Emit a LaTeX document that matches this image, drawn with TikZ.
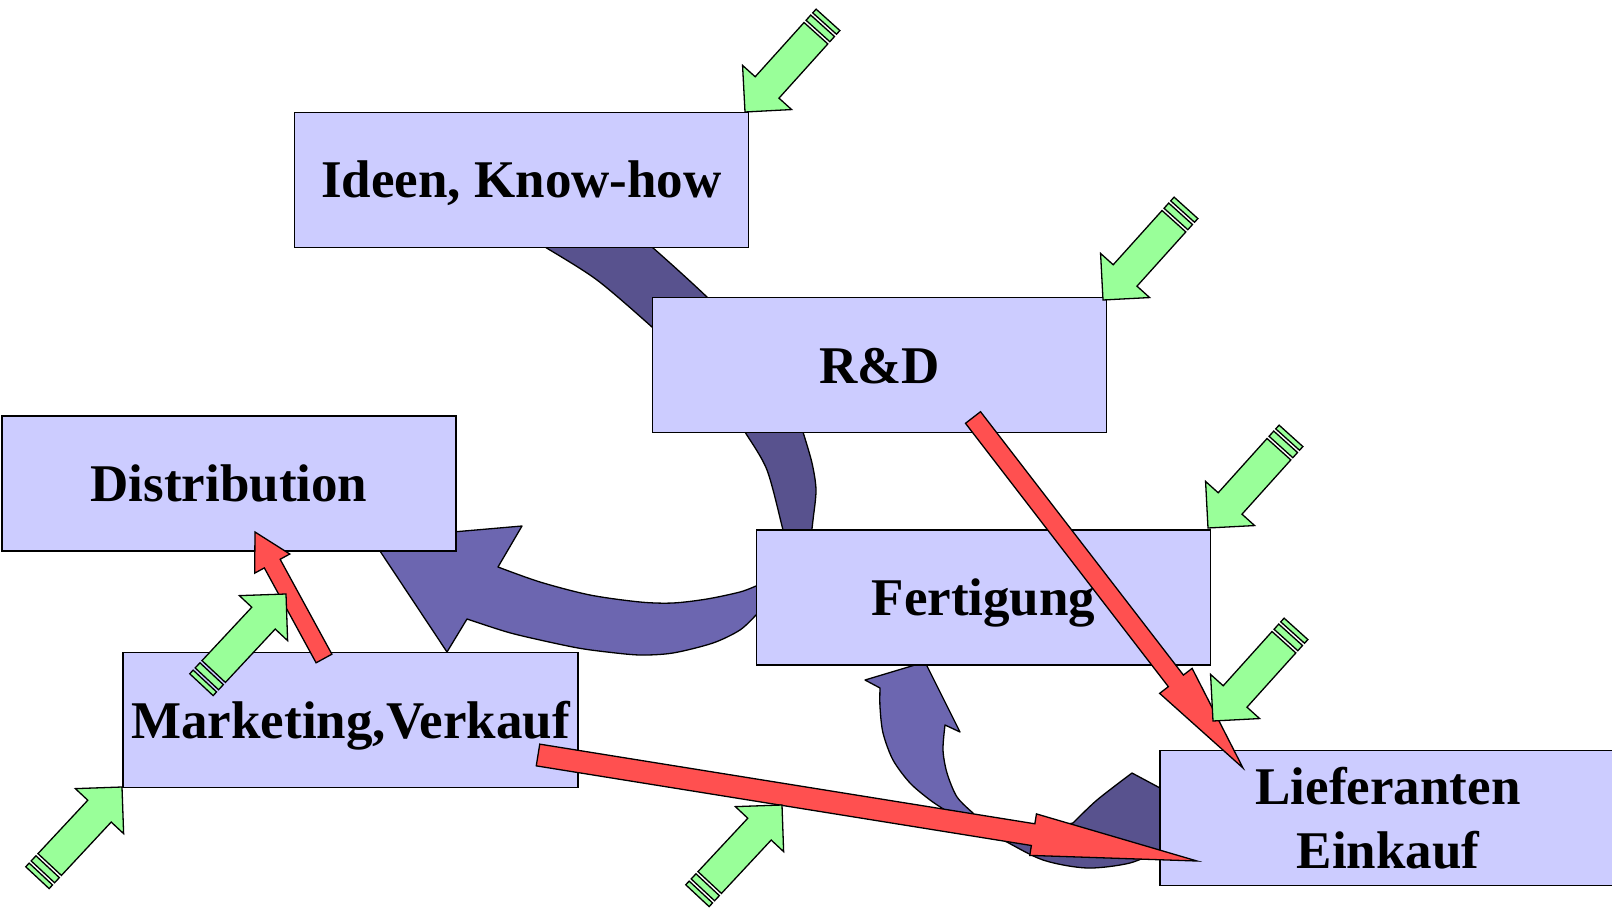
\documentclass[tikz,border=0pt]{standalone}
\usepackage{fontspec}
\setmainfont{Liberation Serif}
\usetikzlibrary{calc}
\definecolor{boxfill}{HTML}{CCCCFF}
\definecolor{purplelight}{HTML}{6C66B0}
\definecolor{purpledark}{HTML}{58528E}
\definecolor{redfill}{HTML}{FF5050}
\definecolor{greenfill}{HTML}{99FF99}
\tikzset{
  box/.style={draw=black, line width=1.5pt, fill=boxfill, minimum width=454pt,
    minimum height=135pt, inner sep=0pt, font=\fontsize{53}{64}\selectfont\bfseries},
  oneline/.style={text height=36pt, text depth=0pt},
  bandlight/.style={fill=purplelight, draw=black, line width=1.3pt, line join=round},
  banddark/.style={fill=purpledark, draw=black, line width=1.3pt, line join=round},
  redarr/.style={fill=redfill, draw=black, line width=1.3pt},
  gpart/.style={fill=greenfill, draw=black, line width=1.3pt},
  garrow/.pic={
    \filldraw[gpart] (0,0) -- (-33,33) -- (-33,16) -- (-106,16) -- (-106,-16) -- (-33,-16) -- (-33,-33) -- cycle;
    \filldraw[gpart] (-109,-16) rectangle (-116,16);
    \filldraw[gpart] (-119,-16) rectangle (-124,16);
  }
}
\newcommand\redblock[5]{%
  \coordinate (hb) at ($(#2)!#5!(#1)$);
  \filldraw[redarr] ($(#1)!#3!90:(#2)$) -- ($(hb)!#3!90:(#2)$) -- ($(hb)!#4!90:(#2)$) -- (#2)
    -- ($(hb)!#4!-90:(#2)$) -- ($(hb)!#3!-90:(#2)$) -- ($(#1)!#3!-90:(#2)$) -- cycle;
}
\begin{document}
\begin{tikzpicture}[x=1pt,y=-1pt]
\useasboundingbox (0,0) rectangle (1612,909);
\fill[white] (0,0) rectangle (1612,909);

% big curved arrow: Ideen -> R&D -> Fertigung -> Distribution
\filldraw[banddark] plot[smooth] coordinates {(530,238) (545,247) (597,280) (652,327) (672,346)}
  -- plot[smooth] coordinates {(735,325) (708,298) (680,272) (652,247) (640,237)} -- cycle;
\filldraw[banddark] plot[smooth] coordinates {(738,420) (745,432) (767,470) (783,530) (787,545)}
  -- plot[smooth] coordinates {(810,545) (813,520) (816,490) (812,463) (803,432) (799,420)} -- cycle;
\filldraw[bandlight] (775,583)
  -- plot[smooth] coordinates {(756,586) (740,592) (707,599) (673,603) (640,602) (590,595) (540,582) (498,567)}
  -- (522,526) -- (372,539) -- (447,652)
  -- plot[smooth] coordinates {(467,619) (507,632) (540,640) (578,648) (607,652) (640,655) (673,653) (713,643) (740,630) (756,615)}
  -- (775,605) -- cycle;

% curved arrow: Lieferanten -> Fertigung
\filldraw[banddark] (1132,773) -- (1175,796) -- (1175,843)
  -- plot[smooth] coordinates {(1160,850) (1130,863) (1087,868) (1043,860) (1003,840) (975,826)}
  -- (1040,829) -- plot[smooth] coordinates {(1073,823) (1097,800) (1132,773)} -- cycle;
\filldraw[bandlight] (945,822)
  -- plot[smooth] coordinates {(945,810) (930,800) (910,783) (893,760) (883,733) (880,707) (880,688)}
  -- (865,680) -- (925,662) -- (960,732)
  -- plot[smooth] coordinates {(945,725) (943,750) (947,773) (957,797) (973,813)}
  -- (976,826) -- cycle;

% boxes
\node[box,oneline] (ideen) at (521.5,180) {Ideen, Know-how};
\node[box,oneline] (rd) at (879.5,365) {R\&D};
\node[box,oneline] (dist) at (229,483.5) {Distribution};
\node[box,oneline] (fert) at (983.5,597.5) {Fertigung};
\node[box,oneline,minimum width=455pt] (mark) at (350.5,720) {Marketing,Verkauf};
\node[box,align=center,minimum width=456pt] (lief) at (1388,818) {Lieferanten\\Einkauf};

% red arrows
\coordinate (r1a) at (973,417.5);
\coordinate (r1b) at (1243,768);
\coordinate (r2a) at (538,755);
\coordinate (r2b) at (1197,861);
\coordinate (r3a) at (324,658.5);
\coordinate (r3b) at (255,532);
\redblock{r1a}{r1b}{9.5pt}{20.5pt}{110pt}
\redblock{r2a}{r2b}{11pt}{21pt}{166pt}
\redblock{r3a}{r3b}{9pt}{20pt}{36pt}

% green striped arrows
\pic[rotate=228] at (745,112) {garrow};
\pic[rotate=228] at (1103,300) {garrow};
\pic[rotate=228] at (1208,528) {garrow};
\pic[rotate=228] at (1213,721) {garrow};
\pic[rotate=47] at (286,594) {garrow};
\pic[rotate=47] at (122,787) {garrow};
\pic[rotate=47] at (782,805) {garrow};
\end{tikzpicture}
\end{document}
